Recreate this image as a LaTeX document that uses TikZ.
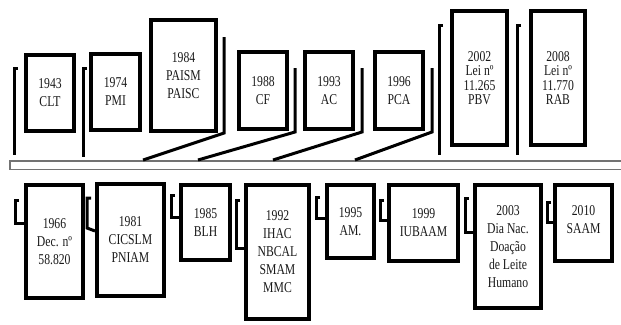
\documentclass[tikz,border=0pt]{standalone}
\usepackage{fontspec}
\setmainfont{Liberation Serif}[FakeStretch=0.78]
\begin{document}
\begin{tikzpicture}[x=1pt, y=-1pt,
		yearbox/.style={draw, line width=4pt, align=center, inner sep=0pt, text=black!90,
			font=\fontsize{15}{18}\selectfont},
		tightbox/.style={yearbox, font=\fontsize{15}{14.5}\selectfont},
		stem/.style={line width=3pt},
		timebar/.style={draw=black!55, line width=1.5pt, minimum width=630, minimum height=8.5, inner sep=0pt}]

		\useasboundingbox (0,0) rectangle (621,324);

		% time line
		\node[timebar] (bar) at (325,165) {};

		% events above the line
		\node[yearbox, minimum width=48, minimum height=76] (y1943) at (50,93) {1943\\CLT};
		\node[yearbox, minimum width=49, minimum height=76] (y1974) at (115.5,92) {1974\\PMI};
		\node[yearbox, minimum width=65, minimum height=111] (y1984) at (183.5,75.5) {1984\\PAISM\\PAISC};
		\node[yearbox, minimum width=48, minimum height=77] (y1988) at (263,90.5) {1988\\CF};
		\node[yearbox, minimum width=48, minimum height=77] (y1993) at (329,90.5) {1993\\AC};
		\node[yearbox, minimum width=48, minimum height=77] (y1996) at (399,90.5) {1996\\PCA};
		\node[tightbox, minimum width=55, minimum height=134] (y2002) at (479.5,78) {2002\\Lei nº\\11.265\\PBV};
		\node[tightbox, minimum width=54, minimum height=134] (y2008) at (558,78) {2008\\Lei nº\\11.770\\RAB};

		\draw[stem] (18,68) -- (14,68) -- (14,155);
		\draw[stem] (87,68) -- (83,68) -- (83,157);
		\draw[stem] (443,25) -- (439,25) -- (439,155);
		\draw[stem] (521,25) -- (517,25) -- (517,155);

		\draw[stem] (224,37) -- (224,133) -- (bar.north -| 143,0);
		\draw[stem] (295,68) -- (295,132) -- (bar.north -| 198,0);
		\draw[stem] (362,68) -- (362,132) -- (bar.north -| 273,0);
		\draw[stem] (432,68) -- (432,132) -- (bar.north -| 355,0);

		% events below the line
		\node[yearbox, minimum width=57, minimum height=113] (y1966) at (54.5,241.5) {1966\\Dec. nº\\58.820};
		\node[yearbox, minimum width=67, minimum height=112] (y1981) at (130.5,240) {1981\\CICSLM\\PNIAM};
		\node[yearbox, minimum width=49, minimum height=75] (y1985) at (205.5,222.5) {1985\\BLH};
		\node[yearbox, minimum width=63, minimum height=134] (y1992) at (277.5,252) {1992\\IHAC\\NBCAL\\SMAM\\MMC};
		\node[yearbox, minimum width=47, minimum height=73] (y1995) at (350.5,221.5) {1995\\AM.};
		\node[yearbox, minimum width=69, minimum height=76] (y1999) at (423.5,223) {1999\\IUBAAM};
		\node[yearbox, minimum width=66, minimum height=123] (y2003) at (508,246.5) {2003\\Dia Nac.\\Doação\\de Leite\\Humano};
		\node[yearbox, minimum width=57, minimum height=76, text depth=6pt] (y2010) at (583.5,223) {2010\\SAAM};

		\draw[stem] (19,200) -- (15,200) -- (15,223) -- (y1966.west |- 0,223);
		\draw[stem] (91,198) -- (87,198) -- (87,228) -- (y1981.west |- 0,231);
		\draw[stem] (175,195) -- (171,195) -- (171,217) -- (y1985.west |- 0,217);
		\draw[stem] (240,200) -- (236,200) -- (236,248) -- (y1992.west |- 0,248);
		\draw[stem] (320,197) -- (316,197) -- (316,218) -- (y1995.west |- 0,218);
		\draw[stem] (384,200) -- (380,200) -- (380,220) -- (y1999.west |- 0,220);
		\draw[stem] (469,198) -- (465,198) -- (465,232) -- (y2003.west |- 0,232);
		\draw[stem] (551,202) -- (547,202) -- (547,222) -- (y2010.west |- 0,222);

	\end{tikzpicture}
\end{document}
